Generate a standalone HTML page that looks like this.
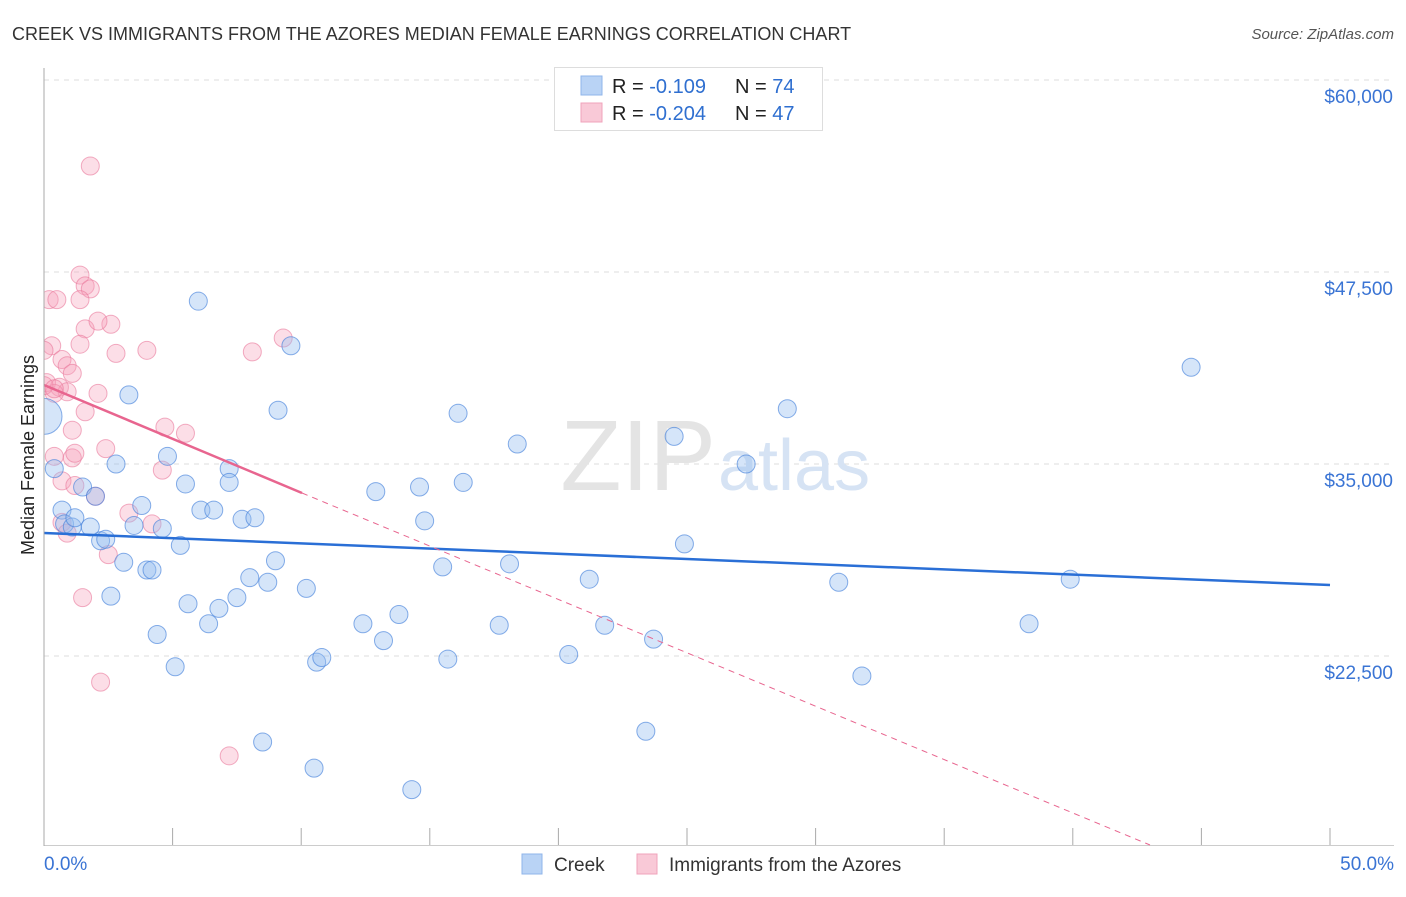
<!DOCTYPE html>
<html><head><meta charset="utf-8"><style>
body{margin:0;background:#fff;font-family:"Liberation Sans",sans-serif;}
svg text{font-family:"Liberation Sans",sans-serif;}
</style></head><body>
<svg id="chart" width="1406" height="892">
<text x="12" y="40" font-size="18" fill="#333">CREEK VS IMMIGRANTS FROM THE AZORES MEDIAN FEMALE EARNINGS CORRELATION CHART</text>
<text x="1394" y="39" font-size="15" fill="#555" font-style="italic" text-anchor="end">Source: ZipAtlas.com</text>
<g id="grid"></g>
<text x="716" y="490" font-size="100" fill="#e4e4e4" font-family="Liberation Serif" text-anchor="end">ZIP</text>
<text x="718" y="490" font-size="72" fill="#d6e3f4">atlas</text>
<g id="marks"></g>
<rect x="0" y="60" width="43.5" height="786" fill="#fff"/>
<line x1="44" x2="44" y1="68" y2="846" stroke="#aaa"/>
<text transform="translate(34,455) rotate(-90)" font-size="18" fill="#222" text-anchor="middle">Median Female Earnings</text>
<g>
<rect x="554.5" y="67.5" width="268" height="63" fill="#fff" stroke="#ddd"/>
<rect x="581" y="76" width="21" height="19" fill="#b9d3f5" stroke="#8fb5ea"/>
<rect x="581" y="103" width="21" height="19" fill="#f9c9d7" stroke="#f0a3bb"/>
<text x="612" y="93" font-size="20" fill="#222">R = <tspan fill="#2f6fd0"> -0.109</tspan><tspan x="735">N = </tspan><tspan fill="#2f6fd0">74</tspan></text>
<text x="612" y="120" font-size="20" fill="#222">R = <tspan fill="#2f6fd0">-0.204</tspan><tspan x="735">N = </tspan><tspan fill="#2f6fd0">47</tspan></text>
</g>
<g>
<rect x="522" y="854" width="20" height="20" fill="#b9d3f5" stroke="#8fb5ea"/>
<text x="554" y="871" font-size="19" fill="#333">Creek</text>
<rect x="637" y="854" width="20" height="20" fill="#f9c9d7" stroke="#f0a3bb"/>
<text x="669" y="871" font-size="19" fill="#333">Immigrants from the Azores</text>
</g>
</svg>
<script>
const yTicks=[60000,47500,35000,22500];
const yTickLabels=["$60,000","$47,500","$35,000","$22,500"];
const xTickLabels=["0.0%","50.0%"];
const creekX=[0,0.4,0.7,0.8,1.1,1.2,1.5,1.8,2,2.2,2.4,2.6,2.8,3.1,3.3,3.5,3.8,4,4.2,4.4,4.6,4.8,5.1,5.3,5.5,5.6,6,6.1,6.4,6.6,6.8,7.2,7.2,7.5,7.7,8,8.2,8.5,8.7,9,9.1,9.6,10.2,10.5,10.6,10.8,12.4,12.9,13.2,13.8,14.6,14.8,15.5,15.7,16.1,16.3,17.7,18.1,18.4,20.4,21.2,21.8,23.4,23.7,24.5,24.9,27.3,28.9,30.9,31.8,38.3,39.9,44.6,14.3];
const creekY=[38100,34700,32000,31100,30900,31500,33500,30900,32900,30000,30100,26400,35000,28600,39500,31000,32300,28100,28100,23900,30800,35500,21800,29700,33700,25900,45600,32000,24600,32000,25600,34700,33800,26300,31400,27600,31500,16900,27300,28700,38500,42700,26900,15200,22100,22400,24600,33200,23500,25200,33500,31300,28300,22300,38300,33800,24500,28500,36300,22600,27500,24500,17600,23600,36800,29800,35000,38600,27300,21200,24600,27500,41300,13800];
const azX=[1.8,1.4,1.6,1.8,0.2,0.5,1.4,1.6,2.6,2.1,0.3,1.4,2.8,4,8.1,9.3,0,0.7,0.9,1.1,0.1,0.6,0.9,0.4,2.1,1.6,1.1,4.7,5.5,2.4,0.4,1.1,1.2,4.6,0.7,1.2,2,3.3,4.2,0.7,0.9,2.5,1.5,2.2,7.2,0,0.4];
const azY=[54400,47300,46600,46400,45700,45700,45700,43800,44100,44300,42700,42800,42200,42400,42300,43200,42400,41800,41400,40900,40300,40000,39700,39600,39600,38400,37200,37400,37000,36000,35500,35400,35700,34600,33900,33600,32900,31800,31100,31200,30500,29100,26300,20800,16000,40100,39900];
const x0=44,x1=1330,yTop=80;
const xs=p=>x0+(p/50)*(x1-x0);
const ys=v=>yTop+(60000-v)*192/12500;
const NS="http://www.w3.org/2000/svg";
const grid=document.getElementById('grid'),marks=document.getElementById('marks');
function mk(tag,attrs,parent){const e=document.createElementNS(NS,tag);for(const k in attrs)e.setAttribute(k,attrs[k]);parent.appendChild(e);return e;}
yTicks.forEach((v,i)=>{
 const l=mk('line',{x1:x0,x2:1394,y1:ys(v),y2:ys(v),stroke:'#ddd','stroke-dasharray':'5,5'},grid);
 
 
 const t=mk('text',{x:1393,y:ys(v)+23,'font-size':19,fill:'#3a74d4','text-anchor':'end'},grid);
 t.textContent=yTickLabels[i];
 
 
});
const bx=mk('line',{x1:x0,x2:1394,y1:845.5,y2:845.5,stroke:'#ccc'},grid);


for(let p=5;p<=50;p+=5){
 const tk=mk('line',{x1:xs(p),x2:xs(p),y1:828,y2:845,stroke:'#aaa'},grid);
 
 
}
[[0,'start',44],[50,'end',1394]].forEach((d,i)=>{
 const t=mk('text',{x:d[2],y:870,'font-size':19,fill:'#3a74d4','text-anchor':d[1]},grid);
 t.textContent=xTickLabels[i];
 
 
});
azX.forEach((p,i)=>{
 const c=mk('circle',{cx:xs(p),cy:ys(azY[i]),r:9,fill:'rgba(246,160,186,0.35)',stroke:'rgba(234,120,155,0.6)','stroke-width':1},marks);
 
 
});
creekX.forEach((p,i)=>{
 const c=mk('circle',{cx:xs(p),cy:ys(creekY[i]),r:i===0?18:9,fill:'rgba(150,190,240,0.4)',stroke:'rgba(70,130,220,0.65)','stroke-width':1},marks);
 
 
});
const ct=mk('line',{x1:xs(0),y1:533,x2:xs(50),y2:585,stroke:'#2a6fd6','stroke-width':2.5},marks);


const at=mk('line',{x1:xs(0),y1:385,x2:302,y2:493,stroke:'#e8658f','stroke-width':2.5},marks);


const ad=mk('line',{x1:302,y1:493,x2:1150,y2:845,stroke:'#e8658f','stroke-width':1,'stroke-dasharray':'6,5'},marks);


</script>
</body></html>
